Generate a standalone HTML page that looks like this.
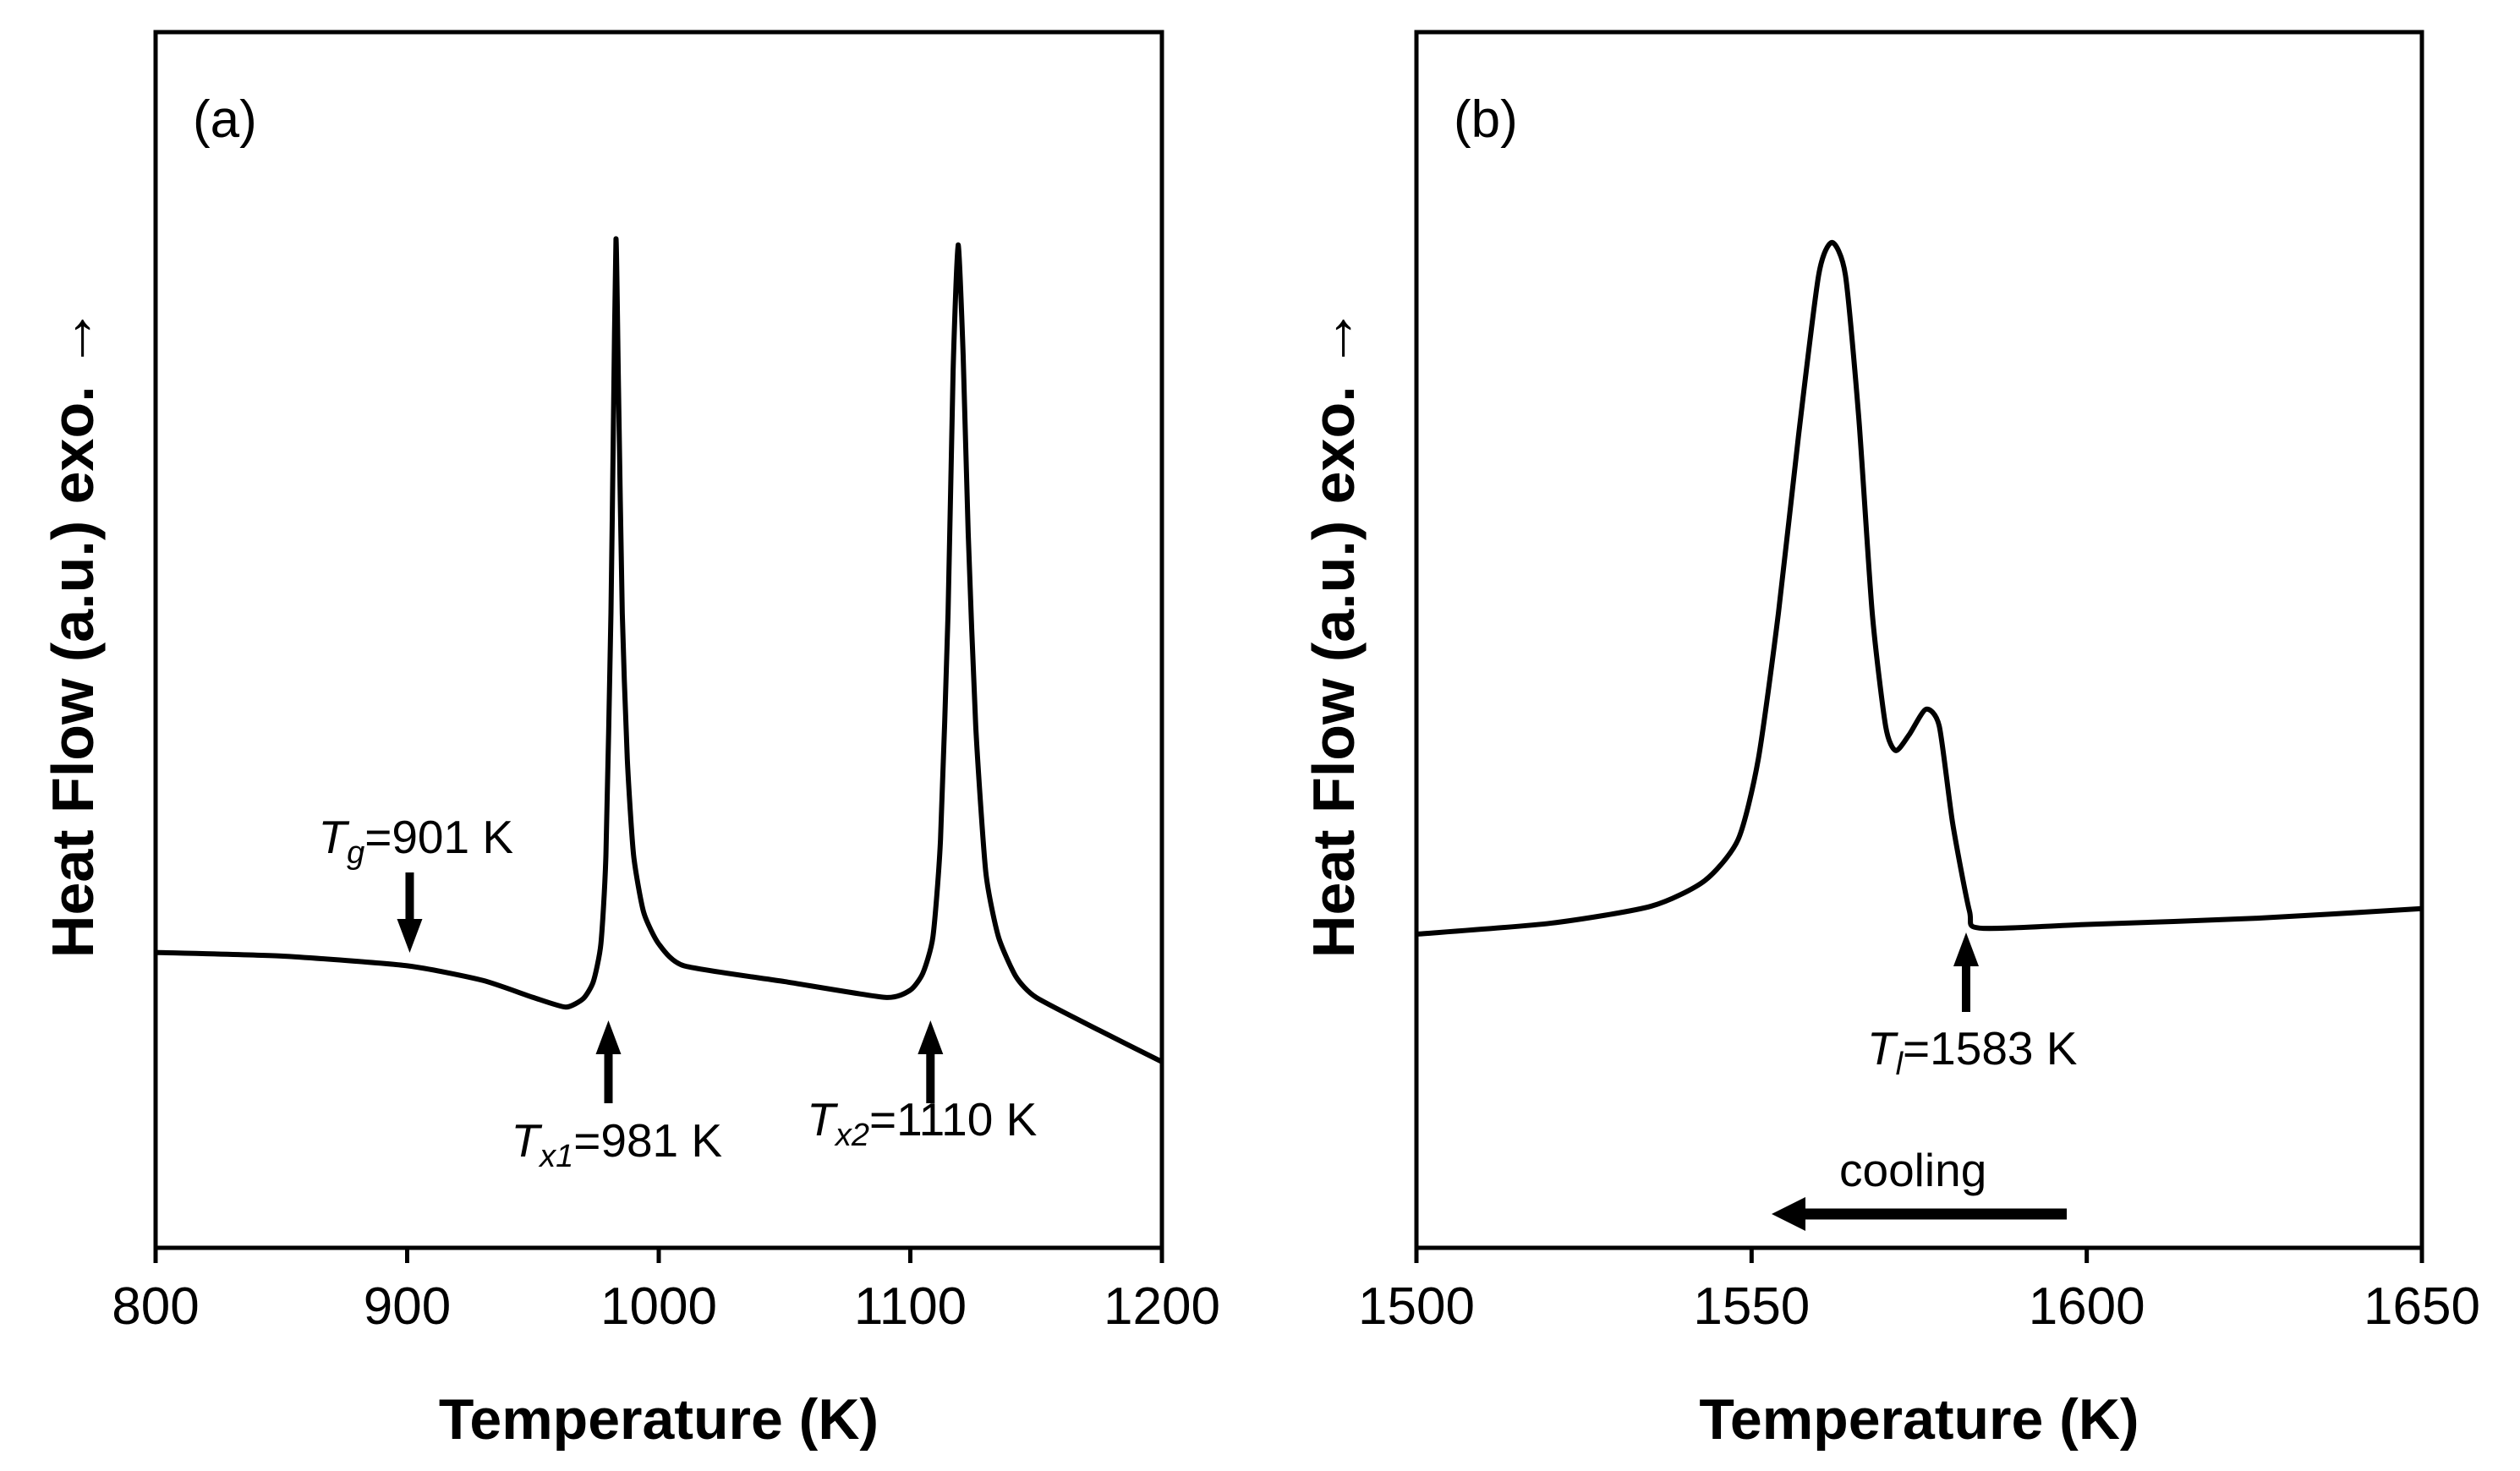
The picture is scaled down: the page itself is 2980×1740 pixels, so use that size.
<!DOCTYPE html>
<html><head><meta charset="utf-8"><style>
html,body{margin:0;padding:0;background:#fff;}
svg{display:block;}
text{font-family:"Liberation Sans",Arial,sans-serif;fill:#000;}
</style></head><body>
<svg id="fig" width="2980" height="1740" viewBox="0 0 2980 1740" xmlns="http://www.w3.org/2000/svg">
<g id="panelA"></g>
<g id="panelB"></g>
</svg>
<script>
// Panel (a) data
const tempA = [800,850,900,930,950,963,970,974,977,979,981,982,983,984,985.5,987.5,990,994,1000,1010,1050,1090,1100,1105,1109,1112,1115,1117,1119,1121,1123,1126,1130,1135,1142,1150,1175,1200];
const heatA = [24.3,24.0,23.2,22.0,20.6,19.8,20.5,21.9,25.0,32.3,52.2,68.1,83.0,70.7,52.2,40.2,32.3,27.6,25.0,23.2,21.9,20.6,21.2,22.6,25.6,33.6,52.2,72.1,82.5,73.4,58.8,42.9,30.9,25.6,22.3,20.6,17.9,15.3];
const ticksA = [800,900,1000,1100,1200];
// Panel (b) data
const tempB = [1500,1520,1535,1543,1548,1551,1554,1557,1560,1562,1564,1566,1568,1570,1571.5,1573.5,1576,1578,1580,1582.5,1584,1600,1625,1650];
const heatB = [25.8,26.7,28.1,30.2,33.6,40.2,52.2,66.8,80.0,82.7,80.0,68.2,52.2,42.9,40.9,42.2,44.3,42.9,34.9,27.7,26.3,26.6,27.1,27.9];
const ticksB = [1500,1550,1600,1650];
// annotation temperatures
const annA = [{t:901,label:"g",val:"=901 K",dir:"down"},{t:980,label:"x1",val:"=981 K",dir:"up"},{t:1108,label:"x2",val:"=1110 K",dir:"up"}];
const annB = [{t:1582,label:"l",val:"=1583 K",dir:"up"}];

const NS="http://www.w3.org/2000/svg";
function mk(parent,tag,attrs){const e=document.createElementNS(NS,tag);for(const k in attrs)e.setAttribute(k,attrs[k]);parent.appendChild(e);return e;}

function drawPanel(g,cfg){
  const {L,R,T,B,xmin,xmax,temps,heat,ticks,letter,smooth}=cfg;
  const xs=v=>L+(v-xmin)/(xmax-xmin)*(R-L);
  const ys=v=>B-v/100*(B-T);
  const fr=mk(g,'rect',{x:L,y:T,width:R-L,height:B-T,fill:'none',stroke:'#000','stroke-width':5});
  
  
  ticks.forEach(t=>{
    const tl=mk(g,'line',{x1:xs(t),x2:xs(t),y1:B,y2:B+18,stroke:'#000','stroke-width':5});
    
    
    const tx=mk(g,'text',{x:xs(t),y:1566,'text-anchor':'middle','font-size':62});
    tx.textContent=t;
    
    
  });
  const pts=temps.map((t,i)=>[xs(t),ys(heat[i])]);
  let d='M'+pts[0][0]+','+pts[0][1];
  for(let i=0;i<pts.length-1;i++){
    const p0=pts[Math.max(0,i-1)],p1=pts[i],p2=pts[i+1],p3=pts[Math.min(pts.length-1,i+2)];
    const k=smooth/6;
    const c1=[p1[0]+(p2[0]-p0[0])*k,p1[1]+(p2[1]-p0[1])*k];
    const c2=[p2[0]-(p3[0]-p1[0])*k,p2[1]-(p3[1]-p1[1])*k];
    d+=' C'+c1[0]+','+c1[1]+' '+c2[0]+','+c2[1]+' '+p2[0]+','+p2[1];
  }
  const c=mk(g,'path',{d:d,fill:'none',stroke:'#000','stroke-width':6,'stroke-linejoin':'round'});
  
  
  const lt=mk(g,'text',{x:L+44,y:162,'font-size':62});
  lt.textContent=letter;
  
  
  const xt=mk(g,'text',{x:(L+R)/2,y:1702,'text-anchor':'middle','font-size':68,'font-weight':'bold'});
  xt.textContent='Temperature (K)';
  
  
  const yt=mk(g,'text',{x:0,y:0,'text-anchor':'middle','font-size':70,'font-weight':'bold',transform:'translate('+(L-74)+',748) rotate(-90)'});
  yt.innerHTML='Heat Flow (a.u.) exo. <tspan font-weight="normal" font-size="74">→</tspan>';
  
  
  return {xs,ys};
}
function arrowV(g,x,yTail,yTip,name){
  const dir=yTip>yTail?1:-1;
  const hl=40,hw=15;
  const base=yTip-dir*hl;
  const s=mk(g,'line',{x1:x,x2:x,y1:yTail,y2:base,stroke:'#000','stroke-width':10});
  
  
  const h=mk(g,'polygon',{points:(x-hw)+','+base+' '+(x+hw)+','+base+' '+x+','+yTip,fill:'#000'});
  
  
}
function annLabel(g,x,y,sub,val,name){
  const t=mk(g,'text',{x:x,y:y,'font-size':55});
  t.innerHTML='<tspan font-style="italic">T</tspan><tspan font-style="italic" font-size="38" dy="12">'+sub+'</tspan><tspan dy="-12">'+val+'</tspan>';
  
  
}

const gA=document.getElementById('panelA');
const a=drawPanel(gA,{L:184,R:1374,T:38,B:1476,xmin:800,xmax:1200,temps:tempA,heat:heatA,ticks:ticksA,letter:'(a)',smooth:0.6});
annA.forEach(n=>{
  const x=a.xs(n.t);
  if(n.dir==='down'){arrowV(gA,x,1032,1127,'tg-arrow');annLabel(gA,x-108,1009,n.label,n.val,'tg-label');}
  else if(n.label==='x1'){arrowV(gA,x,1305,1207,'tx1-arrow');annLabel(gA,x-115,1368,n.label,n.val,'tx1-label');}
  else{arrowV(gA,x,1305,1207,'tx2-arrow');annLabel(gA,x-146,1343,n.label,n.val,'tx2-label');}
});

const gB=document.getElementById('panelB');
const b=drawPanel(gB,{L:1675,R:2864,T:38,B:1476,xmin:1500,xmax:1650,temps:tempB,heat:heatB,ticks:ticksB,letter:'(b)',smooth:0.7});
annB.forEach(n=>{
  const x=b.xs(n.t);
  arrowV(gB,x,1197,1103,'tl-arrow');
  annLabel(gB,x-117,1259,n.label,n.val,'tl-label');
});
const cl=mk(gB,'line',{x1:2444,x2:2132,y1:1436,y2:1436,stroke:'#000','stroke-width':13});


const ch=mk(gB,'polygon',{points:'2135,1416 2135,1456 2095,1436',fill:'#000'});


const ct=mk(gB,'text',{x:2175,y:1403,'font-size':55});
ct.textContent='cooling';


</script>
</body></html>
